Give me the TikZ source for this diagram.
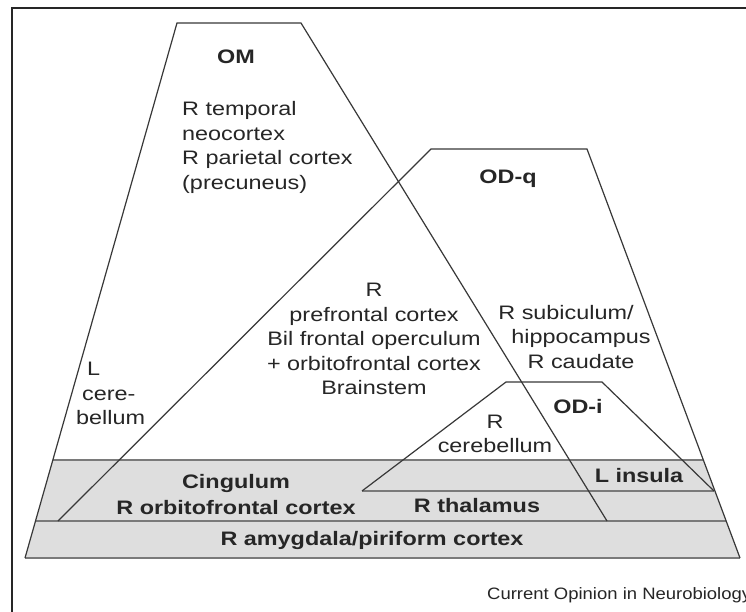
\documentclass[tikz,border=0pt]{standalone}
\usepackage{fontspec}
\setmainfont{Liberation Sans}[FakeStretch=1.2]
\newfontfamily\creditfont{Liberation Sans}[FakeStretch=1.12]
\begin{document}
\begin{tikzpicture}[x=1pt,y=-1pt,
  edge/.style={draw=black!78,line width=1.2pt,line join=miter},
  bandline/.style={draw=black!52,line width=2.2pt},
  bandfill/.style={fill=black!13},
  lbl/.style={inner sep=0pt,font=\fontsize{19.5}{24.5}\selectfont,text=black!85},
  blbl/.style={lbl,font=\fontsize{19.5}{25.5}\selectfont\bfseries},
  frame/.style={draw=black!85,line width=1.4pt}]
\useasboundingbox (0,0) rectangle (746,612);
\fill[white] (0,0) rectangle (746,612);
% frame (cut off at right and bottom)
\draw[frame] (12,640) -- (12,8) -- (770,8);
% coordinates
\coordinate (omTL) at (177,23);
\coordinate (omTR) at (301,23);
\coordinate (omBL) at (25,558);
\coordinate (omBR) at (607,521);
\coordinate (qTL) at (431,149);
\coordinate (qTR) at (587,149);
\coordinate (qBL) at (58,521);
\coordinate (qBR) at (740,558);
\coordinate (iTL) at (506,382);
\coordinate (iTR) at (602,382);
\coordinate (iBL) at (362,491);
\coordinate (iBR) at (714,491);
\coordinate (b1L) at (53,460);
\coordinate (b1R) at (703,460);
\coordinate (b2L) at (36,521);
\coordinate (b2R) at (726,521);
% gray bands
\fill[bandfill] (b1L) -- (b1R) -- (qBR) -- (omBL) -- cycle;
\draw[bandline] (b1L) -- (b1R);
\draw[bandline] (b2L) -- (b2R);
\draw[bandline] (omBL) -- (qBR);
\draw[bandline] (iBL) -- (iBR);
% trapezoid outlines
\draw[edge] (omBL) -- (omTL) -- (omTR) -- (omBR);
\draw[edge] (qBL) -- (qTL) -- (qTR) -- (qBR);
\draw[edge] (iBL) -- (iTL) -- (iTR) -- (iBR);
% labels
\node[blbl] (om) at (236,57) {OM};
\node[lbl,anchor=west,align=left] (omtxt) at (182,147.5) {R temporal\\neocortex\\R parietal cortex\\(precuneus)};
\node[blbl] (odq) at (508,179) {OD-q};
\node[lbl,align=center] (ctr) at (374,339) {R\\prefrontal cortex\\Bil frontal operculum\\+ orbitofrontal cortex\\Brainstem};
\node[lbl,align=center] (sub) at (581,337) {R subiculum/\hspace*{30pt}\\hippocampus\\R caudate};
\node[lbl,anchor=west,align=left] (lcb) at (76,393.5) {\hspace*{11pt}L\\\hspace*{6pt}cere-\\bellum};
\node[blbl] (odi) at (578,407) {OD-i};
\node[lbl,align=center] (rcb) at (495,434) {R\\cerebellum};
\node[blbl,align=center] (cing) at (236,494.5) {Cingulum\\R orbitofrontal cortex};
\node[blbl] (thal) at (477,506) {R thalamus};
\node[blbl] (ins) at (639,476) {L insula};
\node[blbl] (amy) at (372,540) {R amygdala/piriform cortex};
\node[inner sep=0pt,anchor=west,font=\creditfont\fontsize{16.5}{20}\selectfont,text=black!85] (credit) at (487,595) {Current Opinion in Neurobiology};
\end{tikzpicture}
\end{document}
